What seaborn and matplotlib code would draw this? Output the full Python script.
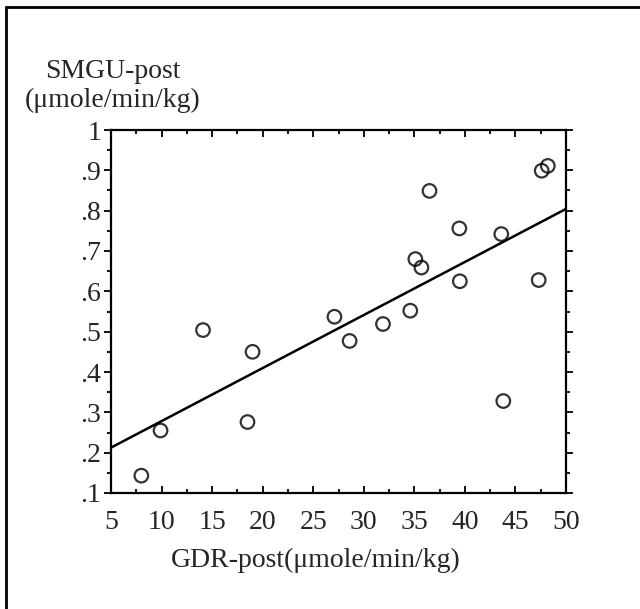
import matplotlib
matplotlib.use("Agg")
import matplotlib.pyplot as plt
import seaborn as sns
import pandas as pd
from matplotlib.lines import Line2D
from matplotlib.ticker import MultipleLocator, FixedLocator

# data
gdr_post = [8.0, 9.9, 14.1, 18.5, 19.0, 27.1, 28.6, 31.9, 34.6, 35.1,
            35.7, 36.5, 39.45, 39.5, 43.6, 43.8, 47.3, 47.6, 48.2]
smgu_post = [0.143, 0.255, 0.504, 0.276, 0.450, 0.537, 0.477, 0.519, 0.552, 0.680,
             0.659, 0.849, 0.756, 0.625, 0.742, 0.328, 0.628, 0.899, 0.911]

x_ticks = [5, 10, 15, 20, 25, 30, 35, 40, 45, 50]
y_ticks = [0.1, 0.2, 0.3, 0.4, 0.5, 0.6, 0.7, 0.8, 0.9, 1.0]
y_tick_labels = [".1", ".2", ".3", ".4", ".5", ".6", ".7", ".8", ".9", "1"]


def main():
    df = pd.DataFrame({"gdr": gdr_post, "smgu": smgu_post})

    sns.set_style("white")
    plt.rcParams["font.family"] = ["Liberation Serif", "DejaVu Serif"]

    fig = plt.figure(figsize=(6.4, 6.09), dpi=100)
    ax = fig.add_axes([111 / 640, 1 - 493 / 609, 455 / 640, 363 / 609])

    ax.set_xlim(5, 50)
    ax.set_ylim(0.1, 1.0)

    sns.regplot(data=df, x="gdr", y="smgu", ax=ax, ci=None, truncate=False,
                scatter_kws=dict(s=95, facecolors="none", edgecolors="black",
                                 linewidths=1.6),
                line_kws=dict(color="black", lw=1.8))

    ax.set_xlim(5, 50)
    ax.set_ylim(0.1, 1.0)

    for s in ax.spines.values():
        s.set_visible(True)
        s.set_color("black")
        s.set_linewidth(1.6)

    ax.xaxis.set_major_locator(FixedLocator(x_ticks))
    ax.xaxis.set_minor_locator(MultipleLocator(2.5))
    ax.set_yticks(y_ticks)
    ax.set_yticklabels(y_tick_labels)
    ax.yaxis.set_minor_locator(MultipleLocator(0.05))
    ax.tick_params(which="both", direction="out", top=True, right=True,
                   left=True, bottom=True, labelsize=20, color="black",
                   width=1.3, pad=2)
    ax.tick_params(which="major", length=5)
    ax.tick_params(which="minor", length=3)
    ax.tick_params(axis="x", which="both", bottom=True, direction="in", pad=12)

    ax.set_xlabel("")
    ax.set_ylabel("")

    fig.text(316 / 640, 1 - 560 / 609, "GDR-post(\u03bcmole/min/kg)",
             ha="center", va="center", fontsize=20)
    fig.text(113 / 640, 1 - 86 / 609, "SMGU-post\n(\u03bcmole/min/kg)",
             ha="center", va="center", fontsize=20, linespacing=1.2)

    # outer frame (only left and top edges are visible)
    fig.add_artist(Line2D([6 / 640, 6 / 640], [0, 1 - 7 / 609],
                          transform=fig.transFigure, color="black", lw=2))
    fig.add_artist(Line2D([6 / 640, 1], [1 - 7 / 609, 1 - 7 / 609],
                          transform=fig.transFigure, color="black", lw=2))

    fig.savefig("out.png", dpi=100, facecolor="white")


if __name__ == '__main__':
    main()
